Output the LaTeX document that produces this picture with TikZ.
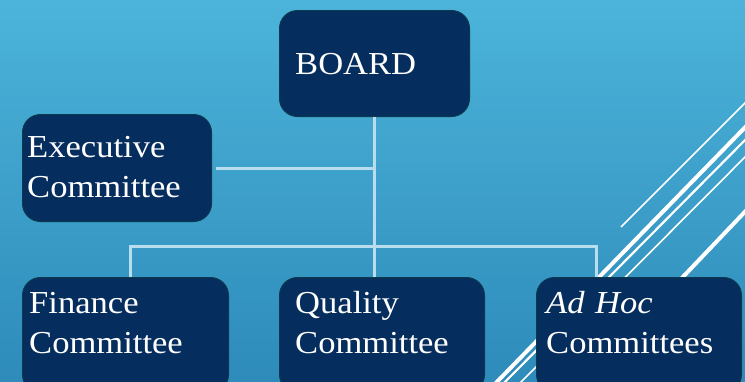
\documentclass[tikz,border=0pt]{standalone}
\usepackage{fontspec}
\setmainfont{Liberation Serif}[FakeStretch=1.08]
\definecolor{bgtop}{HTML}{4CB4DA}
\definecolor{bgbot}{HTML}{2E8BBA}
\definecolor{boxfill}{HTML}{052D5D}
\definecolor{boxline}{HTML}{0B3A4E}
\definecolor{connc}{HTML}{B8DDEC}
\tikzset{
  box/.style={draw=boxline, line width=1pt, fill=boxfill, rounded corners=18pt, inner sep=0pt, anchor=north west},
  lbl/.style={text=white, inner sep=0pt, anchor=base west, text width=220pt, align=left,
    font=\fontsize{32}{40}\selectfont},
  conn/.style={draw=connc, line width=3pt},
  thinln/.style={draw=white, line width=1.6pt},
  midln/.style={draw=white, line width=2.2pt},
  thickln/.style={draw=white, line width=4pt}
}
\begin{document}
\begin{tikzpicture}[x=1pt, y=-1pt]
\useasboundingbox (0,0) rectangle (745,381);
\clip (0,0) rectangle (745,381);
\shade[top color=bgtop, bottom color=bgbot] (0,0) rectangle (745,381);
% decorative diagonal lines
\draw[thinln] (621,227) -- (760,88);
\draw[thickln] (490,389) -- (760,112);
\draw[midln] (498,389) -- (760,125);
\draw[thinln] (514,389) -- (760,142);
\draw[thickln] (600,364) -- (760,196);
% boxes
\node[box, minimum width=190pt, minimum height=106pt] (board) at (279,10) {};
\node[box, minimum width=189pt, minimum height=107pt] (exec) at (22,114) {};
\node[box, minimum width=206pt, minimum height=115pt] (finance) at (22,277) {};
\node[box, minimum width=205pt, minimum height=115pt] (quality) at (279,277) {};
\node[box, minimum width=205pt, minimum height=115pt] (adhoc) at (536,277) {};
% connectors
\coordinate (bus) at (373,246);
\coordinate (fj) at ([xshift=108pt]finance.north west);
\coordinate (aj) at ([xshift=60pt]adhoc.north west);
\coordinate (ej) at ([xshift=4pt]exec.east);
\draw[conn] (board.south) -- (board.south |- quality.north);
\draw[conn] (ej) -- (ej -| board.south);
\draw[conn] (fj) |- (bus) -| (aj);
% labels
\node[lbl] (boardt) at (295,74) {BOARD};
\node[lbl] (exect) at (27,157) {Executive\\Committee};
\node[lbl] (financet) at (29,313) {Finance\\Committee};
\node[lbl] (qualityt) at (295,313) {Quality\\Committee};
\node[lbl] (adhoct) at (546,313) {\textit{Ad Hoc}\\Committees};
\end{tikzpicture}
\end{document}
